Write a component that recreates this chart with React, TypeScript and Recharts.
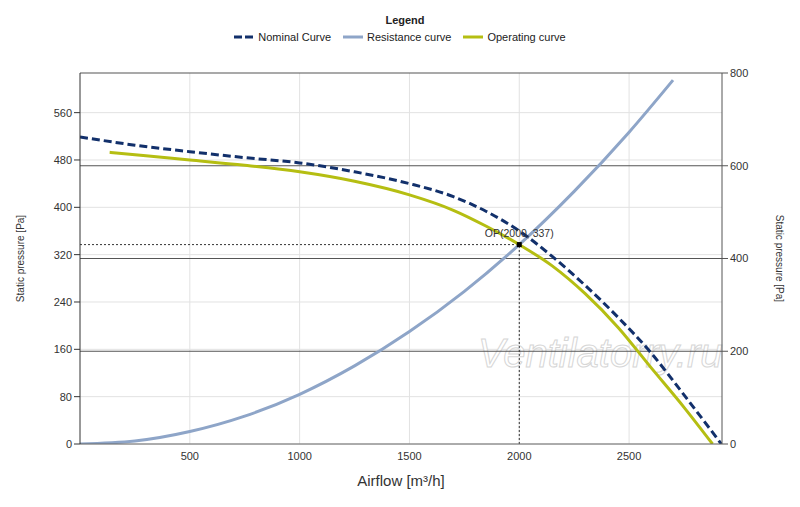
import { LineChart, Line, XAxis, YAxis, CartesianGrid, ReferenceLine, ReferenceDot } from "recharts"

// fan curves, airflow in m³/h, pressure in Pa (left axis)
const nominalFlow = [0, 250, 500, 750, 1000, 1250, 1500, 1700, 1850, 2000, 2150, 2300, 2450, 2600, 2750, 2920]
const nominalPa = [519, 505, 494, 484, 475, 460, 440, 418, 393, 360, 317, 268, 214, 154, 83, 0]

const resistanceFlow = [0, 250, 500, 750, 1000, 1250, 1500, 1750, 2000, 2250, 2500, 2700]
const resistancePa = [0, 5, 21, 47, 84, 132, 190, 258, 337, 427, 527, 615]

const operatingFlow = [135, 300, 500, 750, 1000, 1250, 1500, 1700, 1850, 2000, 2150, 2300, 2450, 2600, 2750, 2880]
const operatingPa = [493, 487, 480, 471, 460, 444, 421, 395, 368, 337, 301, 254, 197, 129, 62, 0]

const opFlow = 2000
const opPa = 337

const flowTicks = [500, 1000, 1500, 2000, 2500]
const leftTicks = [0, 80, 160, 240, 320, 400, 480, 560]
const rightTicks = [0, 200, 400, 600, 800]
const rightGrid = [200, 400, 600, 800]

const toPoints = (xs: number[], ys: number[]) => xs.map((x, i) => ({ flow: x, pa: ys[i] }))

const nominalData = toPoints(nominalFlow, nominalPa)
const resistanceData = toPoints(resistanceFlow, resistancePa)
const operatingData = toPoints(operatingFlow, operatingPa)

const FONT = "'Liberation Sans', Arial, sans-serif"
const NAVY = "#12306b"
const STEEL = "#8ea5c8"
const OLIVE = "#b5be12"

const tickStyle = { fontSize: 11, fill: "#333", fontFamily: FONT }

const OpMarker = (props: any) => (
  <rect x={props.cx - 2.5} y={props.cy - 2.5} width={5} height={5} fill="#000" />
)

function LegendBox() {
  const item = (label: string, color: string, dashed: boolean, last = false) => (
    <span style={{ display: "inline-flex", alignItems: "center", marginRight: last ? 0 : 12 }}>
      <svg width={20} height={6} style={{ marginRight: 4 }}>
        <line x1={0} y1={3} x2={20} y2={3} stroke={color} strokeWidth={3} strokeDasharray={dashed ? "8 3" : undefined} />
      </svg>
      {label}
    </span>
  )
  return (
    <div style={{ position: "absolute", left: 0, top: 14, width: 800, textAlign: "center", fontFamily: FONT, fontSize: 11, color: "#222" }}>
      <div style={{ fontWeight: "bold", marginLeft: 10 }}>Legend</div>
      <div style={{ marginTop: 4 }}>
        {item("Nominal Curve", NAVY, true)}
        {item("Resistance curve", STEEL, false)}
        {item("Operating curve", OLIVE, false, true)}
      </div>
    </div>
  )
}

export default function App() {
  return (
    <div style={{ position: "absolute", left: 0, top: 0, width: 800, height: 507, background: "#fff" }}>
      <LegendBox />
      <LineChart width={800} height={507} margin={{ top: 73, right: 0, bottom: 0, left: 0 }}>
        <CartesianGrid yAxisId="left" stroke="#e2e2e2" horizontalValues={leftTicks} verticalValues={flowTicks} />
        <XAxis
          dataKey="flow"
          type="number"
          domain={[0, 2923]}
          ticks={flowTicks}
          allowDataOverflow
          height={63}
          tickLine={false}
          axisLine={{ stroke: "#666" }}
          tick={tickStyle}
          label={{ value: "Airflow [m³/h]", position: "center", dy: 5, style: { fontSize: 15, fill: "#333", fontFamily: FONT } }}
        />
        <YAxis
          yAxisId="left"
          dataKey="pa"
          width={80}
          domain={[0, 627]}
          ticks={leftTicks}
          allowDataOverflow
          axisLine={{ stroke: "#333" }}
          tickLine={{ stroke: "#333" }}
          tick={tickStyle}
          label={{ value: "Static pressure [Pa]", angle: -90, position: "center", dx: -20, style: { fontSize: 10, fill: "#333", fontFamily: FONT } }}
        />
        <YAxis
          yAxisId="right"
          orientation="right"
          width={78}
          domain={[0, 800]}
          ticks={rightTicks}
          allowDataOverflow
          axisLine={{ stroke: "#555" }}
          tickLine={{ stroke: "#555" }}
          tick={tickStyle}
          label={{ value: "Static pressure [Pa]", angle: 90, position: "center", dx: 19, style: { fontSize: 10, fill: "#333", fontFamily: FONT } }}
        />
        {rightGrid.map((v) => (
          <ReferenceLine key={v} yAxisId="right" y={v} stroke="#555" strokeWidth={1.2} />
        ))}
        <text x={478} y={367} fontSize={40} fontStyle="italic" fontFamily={FONT} fill="#fff" stroke="#d6d6d6" strokeWidth={1}>
          Ventilatorry.ru
        </text>
        <ReferenceLine
          yAxisId="left"
          segment={[{ x: 0, y: opPa }, { x: opFlow, y: opPa }]}
          stroke="#333"
          strokeDasharray="2 2"
        />
        <ReferenceLine
          yAxisId="left"
          segment={[{ x: opFlow, y: 0 }, { x: opFlow, y: opPa }]}
          stroke="#333"
          strokeDasharray="2 2"
        />
        <Line
          yAxisId="left"
          data={resistanceData}
          dataKey="pa"
          type="monotone"
          stroke={STEEL}
          strokeWidth={3}
          dot={false}
          isAnimationActive={false}
        />
        <Line
          yAxisId="left"
          data={operatingData}
          dataKey="pa"
          type="monotone"
          stroke={OLIVE}
          strokeWidth={3}
          dot={false}
          isAnimationActive={false}
        />
        <Line
          yAxisId="left"
          data={nominalData}
          dataKey="pa"
          type="monotone"
          stroke={NAVY}
          strokeWidth={3}
          strokeDasharray="8 4"
          dot={false}
          isAnimationActive={false}
        />
        <ReferenceDot
          yAxisId="left"
          x={opFlow}
          y={opPa}
          shape={OpMarker}
          label={{ value: `OP(${opFlow}, ${opPa})`, position: "top", offset: -2, style: { fontSize: 10.5, fill: "#333", fontFamily: FONT } }}
        />
      </LineChart>
    </div>
  )
}
